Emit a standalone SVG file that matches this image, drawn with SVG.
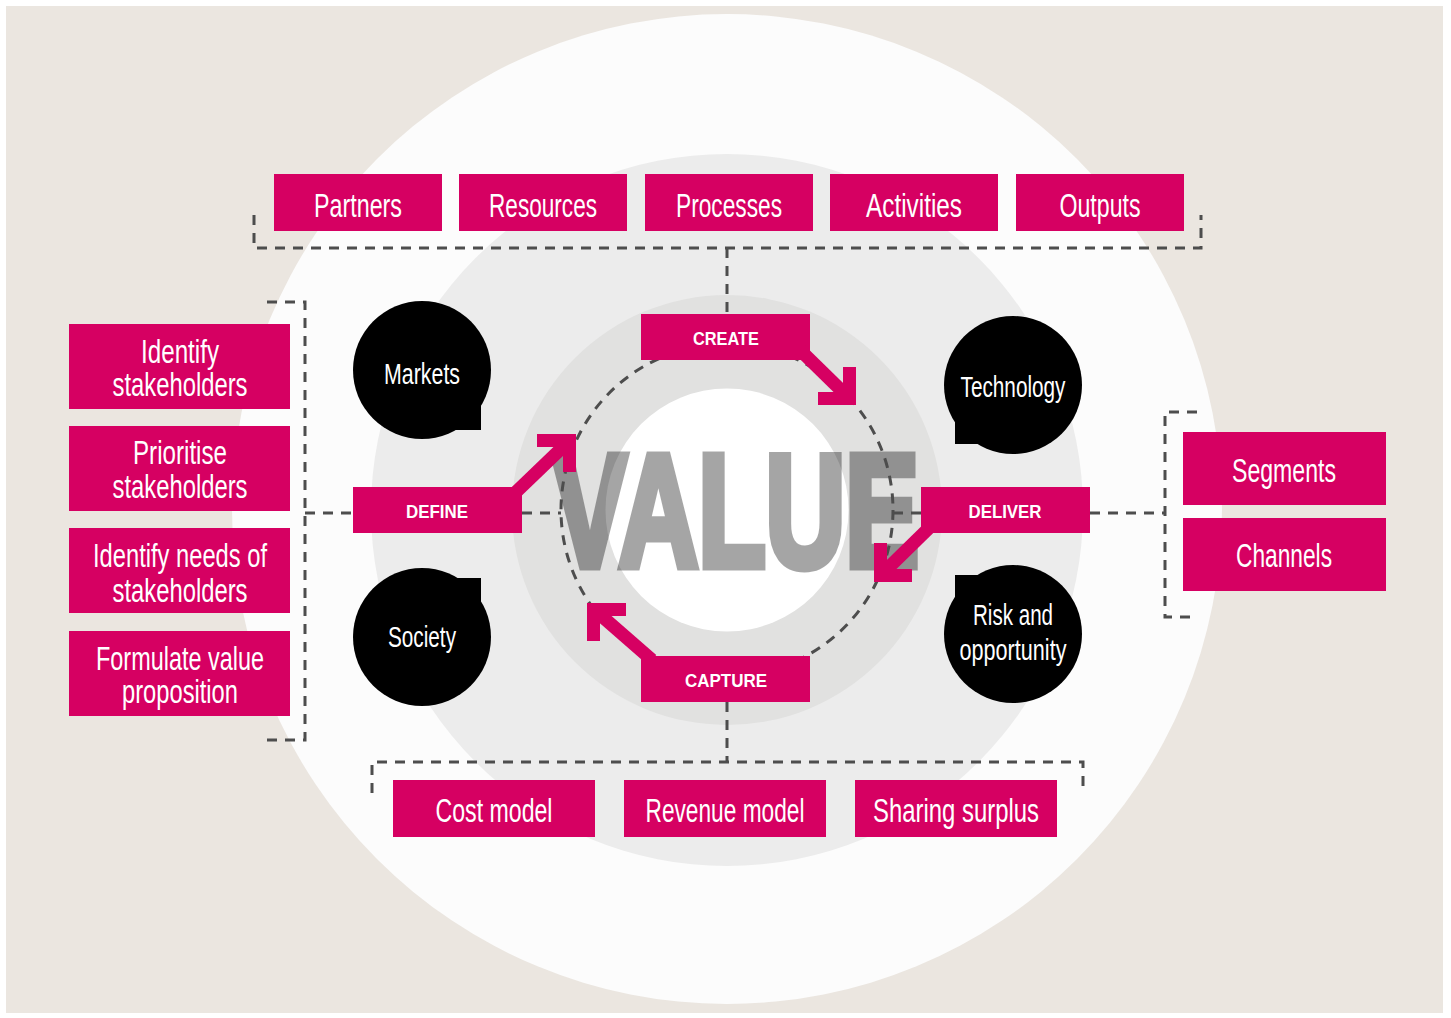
<svg xmlns="http://www.w3.org/2000/svg" width="1451" height="1018" viewBox="0 0 1451 1018">
<style>
.box{fill:#d60062}
.lt{font-family:"Liberation Sans Narrow","Liberation Sans",Arial,sans-serif;fill:#fff;text-anchor:middle;font-size:33px}
.bl{font-family:"Liberation Sans Narrow","Liberation Sans",Arial,sans-serif;fill:#fff;text-anchor:middle;font-size:30px}
.bd{font-family:"Liberation Sans","DejaVu Sans",Arial,sans-serif;font-weight:bold;fill:#fff;text-anchor:middle;font-size:19px}
.dash{fill:none;stroke:#4d4d4d;stroke-width:3;stroke-dasharray:10 8}
.arr{fill:none;stroke:#d60062;stroke-width:13;stroke-linejoin:miter;stroke-linecap:butt}
.bub{fill:#000}
</style>
<rect x="0" y="0" width="1451" height="1018" fill="#ffffff"/>
<rect x="6" y="6" width="1437" height="1007" fill="#ebe6e0"/>
<circle cx="727" cy="509" r="495" fill="#fcfcfc"/>
<circle cx="727" cy="510" r="356" fill="#ececec"/>
<circle cx="727" cy="510" r="215" fill="#e1e1e0"/>
<circle cx="727" cy="510" r="121.5" fill="#ffffff"/>
<g opacity="0.35">
<text x="553" y="566" font-family="Liberation Sans,Arial,sans-serif" font-weight="bold" font-size="160" fill="#000" stroke="#000" stroke-width="9" stroke-linejoin="miter" textLength="366" lengthAdjust="spacingAndGlyphs">VALUE</text>
</g>

<g id="connectors">
<circle class="dash" cx="727" cy="510" r="166"/>
<path class="dash" d="M254,215 V248 H1201 V215"/>
<path class="dash" d="M727,248 V314"/>
<path class="dash" d="M267,302 H305 V740 H267"/>
<path class="dash" d="M305,513 H353"/>
<path class="dash" d="M522,513 H561"/>
<path class="dash" d="M893,513 H921"/>
<path class="dash" d="M1090,513 H1165"/>
<path class="dash" d="M1197,412 H1165 V617 H1197"/>
<path class="dash" d="M727,702 V762"/>
<path class="dash" d="M372,793 V762 H1083 V793"/>
</g>

<g id="partners"><rect class="box" x="274" y="174" width="168" height="57"/><text class="lt" x="358" y="217" textLength="88" lengthAdjust="spacingAndGlyphs">Partners</text></g>
<g id="resources"><rect class="box" x="459" y="174" width="168" height="57"/><text class="lt" x="543" y="217" textLength="108" lengthAdjust="spacingAndGlyphs">Resources</text></g>
<g id="processes"><rect class="box" x="645" y="174" width="168" height="57"/><text class="lt" x="729" y="217" textLength="106" lengthAdjust="spacingAndGlyphs">Processes</text></g>
<g id="activities"><rect class="box" x="830" y="174" width="168" height="57"/><text class="lt" x="914" y="217" textLength="96" lengthAdjust="spacingAndGlyphs">Activities</text></g>
<g id="outputs"><rect class="box" x="1016" y="174" width="168" height="57"/><text class="lt" x="1100" y="217" textLength="81" lengthAdjust="spacingAndGlyphs">Outputs</text></g>

<g id="identify-stakeholders"><rect class="box" x="69" y="324" width="221" height="85"/><text class="lt" x="180" y="363" textLength="78" lengthAdjust="spacingAndGlyphs">Identify</text><text class="lt" x="180" y="396" textLength="135" lengthAdjust="spacingAndGlyphs">stakeholders</text></g>
<g id="prioritise-stakeholders"><rect class="box" x="69" y="426" width="221" height="85"/><text class="lt" x="180" y="464" textLength="94" lengthAdjust="spacingAndGlyphs">Prioritise</text><text class="lt" x="180" y="498" textLength="135" lengthAdjust="spacingAndGlyphs">stakeholders</text></g>
<g id="identify-needs"><rect class="box" x="69" y="528" width="221" height="85"/><text class="lt" x="180" y="567" textLength="174" lengthAdjust="spacingAndGlyphs">Identify needs of</text><text class="lt" x="180" y="602" textLength="135" lengthAdjust="spacingAndGlyphs">stakeholders</text></g>
<g id="formulate-value"><rect class="box" x="69" y="631" width="221" height="85"/><text class="lt" x="180" y="670" textLength="168" lengthAdjust="spacingAndGlyphs">Formulate value</text><text class="lt" x="180" y="703" textLength="116" lengthAdjust="spacingAndGlyphs">proposition</text></g>

<g id="segments"><rect class="box" x="1183" y="432" width="203" height="73"/><text class="lt" x="1284" y="482" textLength="104" lengthAdjust="spacingAndGlyphs">Segments</text></g>
<g id="channels"><rect class="box" x="1183" y="518" width="203" height="73"/><text class="lt" x="1284" y="567" textLength="96" lengthAdjust="spacingAndGlyphs">Channels</text></g>

<g id="cost-model"><rect class="box" x="393" y="780" width="202" height="57"/><text class="lt" x="494" y="822" textLength="117" lengthAdjust="spacingAndGlyphs">Cost model</text></g>
<g id="revenue-model"><rect class="box" x="624" y="780" width="202" height="57"/><text class="lt" x="725" y="822" textLength="159" lengthAdjust="spacingAndGlyphs">Revenue model</text></g>
<g id="sharing-surplus"><rect class="box" x="855" y="780" width="202" height="57"/><text class="lt" x="956" y="822" textLength="166" lengthAdjust="spacingAndGlyphs">Sharing surplus</text></g>

<g id="markets"><circle class="bub" cx="422" cy="370" r="69"/><rect class="bub" x="422" y="370" width="59" height="60"/><text class="bl" x="422" y="384" textLength="76" lengthAdjust="spacingAndGlyphs">Markets</text></g>
<g id="technology"><circle class="bub" cx="1013" cy="385" r="69"/><rect class="bub" x="955" y="385" width="58" height="59"/><text class="bl" x="1013" y="397" textLength="105" lengthAdjust="spacingAndGlyphs">Technology</text></g>
<g id="society"><circle class="bub" cx="422" cy="637" r="69"/><rect class="bub" x="422" y="578" width="59" height="59"/><text class="bl" x="422" y="647" textLength="68" lengthAdjust="spacingAndGlyphs">Society</text></g>
<g id="risk-opportunity"><circle class="bub" cx="1013" cy="634" r="69"/><rect class="bub" x="955" y="575" width="58" height="59"/><text class="bl" x="1013" y="625" textLength="80" lengthAdjust="spacingAndGlyphs">Risk and</text><text class="bl" x="1013" y="660" textLength="107" lengthAdjust="spacingAndGlyphs">opportunity</text></g>

<g id="create"><rect class="box" x="641" y="314" width="169" height="46"/><text class="bd" x="726" y="345" textLength="66" lengthAdjust="spacingAndGlyphs">CREATE</text></g>
<g id="define"><rect class="box" x="353" y="487" width="169" height="46"/><text class="bd" x="437" y="518" textLength="62" lengthAdjust="spacingAndGlyphs">DEFINE</text></g>
<g id="deliver"><rect class="box" x="921" y="487" width="169" height="46"/><text class="bd" x="1005" y="518" textLength="73" lengthAdjust="spacingAndGlyphs">DELIVER</text></g>
<g id="capture"><rect class="box" x="641" y="656" width="169" height="46"/><text class="bd" x="726" y="687" textLength="82" lengthAdjust="spacingAndGlyphs">CAPTURE</text></g>

<g id="arrows">
<path class="arr" d="M800,350 L847,396"/>
<path class="arr" d="M818,398.5 H849.5 V367"/>
<path class="arr" d="M515,493 L566,444"/>
<path class="arr" d="M537,440.5 H569.5 V472"/>
<path class="arr" d="M930,527 L883,573"/>
<path class="arr" d="M880.5,543 V575.5 H912"/>
<path class="arr" d="M652,660 L597,612"/>
<path class="arr" d="M626,609.5 H593.5 V641"/>
</g>
</svg>
